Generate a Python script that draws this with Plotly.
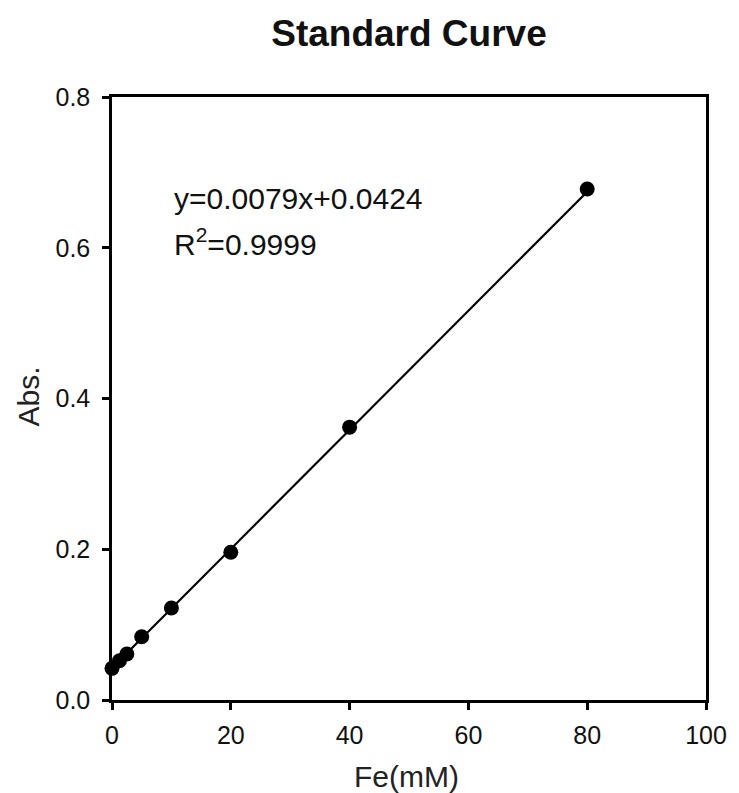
import plotly.graph_objects as go

fe_mM = [0, 1.25, 2.5, 5, 10, 20, 40, 80]
absorbance = [0.042, 0.052, 0.061, 0.084, 0.122, 0.196, 0.362, 0.678]
slope = 0.0079
intercept = 0.0424
fit_x = [0, 80]
x_ticks = [0, 20, 40, 60, 80, 100]
y_ticks = [0.0, 0.2, 0.4, 0.6, 0.8]

fit_y = [slope * v + intercept for v in fit_x]

FONT = "Liberation Sans, Arial, sans-serif"

fig = go.Figure()
fig.add_trace(go.Scatter(x=fit_x, y=fit_y, mode="lines",
                         line=dict(color="black", width=2.2), showlegend=False,
                         cliponaxis=False))
fig.add_trace(go.Scatter(x=fe_mM, y=absorbance, mode="markers",
                         marker=dict(color="black", size=15), showlegend=False,
                         cliponaxis=False))

fig.add_annotation(x=10.1, y=0.665, xref="x", yref="y", xanchor="left", yanchor="middle",
                   text="y=0.0079x+0.0424", showarrow=False,
                   font=dict(family=FONT, size=30, color="#111"))
fig.add_annotation(x=10.1, y=0.607, xref="x", yref="y", xanchor="left", yanchor="middle",
                   text="R<sup>2</sup>=0.9999", showarrow=False,
                   font=dict(family=FONT, size=30, color="#111"))

# axis titles
fig.add_annotation(x=0, y=0.5, xref="paper", yref="paper", xanchor="center", yanchor="middle",
                   xshift=-84, yshift=2, textangle=-90, text="Abs.", showarrow=False,
                   font=dict(family=FONT, size=30, color="#222"))
fig.add_annotation(x=0.5, y=0, xref="paper", yref="paper", xanchor="center", yanchor="middle",
                   xshift=-3, yshift=-76, text="Fe(mM)", showarrow=False,
                   font=dict(family=FONT, size=30, color="#222"))

axis_common = dict(showline=True, linecolor="black", linewidth=2.5, mirror=True,
                   ticks="outside", ticklen=7, tickwidth=2.5, tickcolor="black",
                   showgrid=False, zeroline=False,
                   tickfont=dict(family=FONT, size=25, color="#111"))

fig.update_layout(
    width=731, height=785,
    margin=dict(l=104, r=21, t=89, b=93),
    paper_bgcolor="white", plot_bgcolor="white",
    title=dict(text="<b>Standard Curve</b>", x=0.5, xref="paper", xanchor="center",
               y=1 - 25 / 785, yanchor="middle", yref="container",
               font=dict(family=FONT, size=37, color="#111")),
    xaxis=dict(range=[0, 100], tickvals=x_ticks, ticklabelstandoff=4,
               **axis_common),
    yaxis=dict(range=[0, 0.8], tickvals=y_ticks, tickformat=".1f", ticklabelstandoff=7,
               **axis_common),
)

fig.write_html("out.html")
